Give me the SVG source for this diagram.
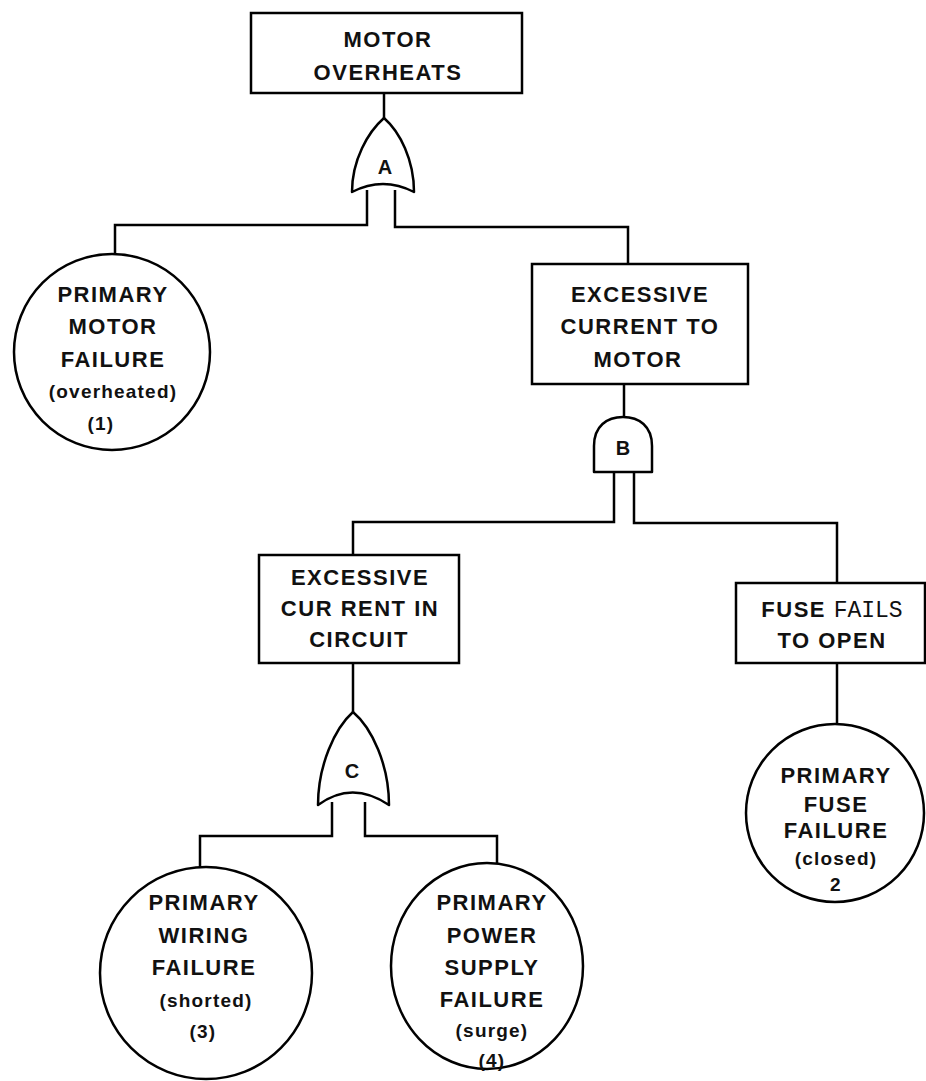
<svg xmlns="http://www.w3.org/2000/svg" width="926" height="1081" viewBox="0 0 926 1081">
<style>
.box{fill:#fff;stroke:#000;stroke-width:2.5}
.gate{fill:#fff;stroke:#000;stroke-width:2.5;stroke-linejoin:round}
.ev{fill:#fff;stroke:#000;stroke-width:2.5}
.wire{fill:none;stroke:#000;stroke-width:2.5}
text{font-family:"Liberation Sans",Arial,sans-serif;font-weight:bold;fill:#111;text-anchor:middle}
.t{font-size:22px;letter-spacing:1.5px}
.s{font-size:19px;letter-spacing:1.2px}
.g{font-size:20px}
.mono{font-family:"Liberation Mono","Courier New",monospace;font-weight:normal;font-size:23px;letter-spacing:0}
</style>
<rect width="926" height="1081" fill="#fff"/>
<g id="connectors">
<path class="wire" d="M384,93 V118"/>
<path class="wire" d="M367,190 V225 H115 V255"/>
<path class="wire" d="M395,190 V227 H628 V264"/>
<path class="wire" d="M624,384 V417"/>
<path class="wire" d="M614,472 V522 H353 V555"/>
<path class="wire" d="M634,472 V523 H837 V583"/>
<path class="wire" d="M353,663 V712"/>
<path class="wire" d="M332,802 V836 H200 V867"/>
<path class="wire" d="M365,802 V836 H497 V863"/>
<path class="wire" d="M837,663 V724"/>
</g>
<g id="motor-overheats">
<rect class="box" x="251" y="13" width="271" height="80"/>
<text class="t" x="388" y="47">MOTOR</text>
<text class="t" x="388" y="80">OVERHEATS</text>
</g>
<g id="gate-A">
<path class="gate" d="M384,118 C368,132 352,160 352,192 Q383,176 414,192 C414,160 400,132 384,118 Z"/>
<text class="g" x="385" y="174">A</text>
</g>
<g id="primary-motor-failure">
<circle class="ev" cx="112" cy="352" r="98"/>
<text class="t" x="113" y="302">PRIMARY</text>
<text class="t" x="113" y="334">MOTOR</text>
<text class="t" x="113" y="367">FAILURE</text>
<text class="s" x="113" y="398">(overheated)</text>
<text class="s" x="101" y="430">(1)</text>
</g>
<g id="excessive-current-to-motor">
<rect class="box" x="532" y="264" width="216" height="120"/>
<text class="t" x="640" y="302">EXCESSIVE</text>
<text class="t" x="640" y="334">CURRENT TO</text>
<text class="t" x="638" y="367">MOTOR</text>
</g>
<g id="gate-B">
<path class="gate" d="M594,472 V446 C594,426 607,417 623,417 C639,417 652,426 652,446 V472 Z"/>
<text class="g" x="623" y="455">B</text>
</g>
<g id="excessive-current-in-circuit">
<rect class="box" x="259" y="555" width="200" height="108"/>
<text class="t" x="360" y="585">EXCESSIVE</text>
<text class="t" x="360" y="616">CUR RENT IN</text>
<text class="t" x="359" y="647">CIRCUIT</text>
</g>
<g id="gate-C">
<path class="gate" d="M353,712 C335,728 318,765 318,805 Q352,780 389,805 C389,765 372,728 353,712 Z"/>
<text class="g" x="352" y="778">C</text>
</g>
<g id="fuse-fails-to-open">
<rect class="box" x="736" y="583" width="189" height="80"/>
<text class="t" x="832" y="617">FUSE <tspan class="mono">FAILS</tspan></text>
<text class="t" x="832" y="648">TO OPEN</text>
</g>
<g id="primary-fuse-failure">
<circle class="ev" cx="835" cy="813" r="89"/>
<text class="t" x="836" y="783">PRIMARY</text>
<text class="t" x="836" y="812">FUSE</text>
<text class="t" x="836" y="838">FAILURE</text>
<text class="s" x="836" y="865">(closed)</text>
<text class="s" x="836" y="891">2</text>
</g>
<g id="primary-wiring-failure">
<circle class="ev" cx="206" cy="973" r="106"/>
<text class="t" x="204" y="910">PRIMARY</text>
<text class="t" x="204" y="943">WIRING</text>
<text class="t" x="204" y="975">FAILURE</text>
<text class="s" x="206" y="1007">(shorted)</text>
<text class="s" x="203" y="1038">(3)</text>
</g>
<g id="primary-power-supply-failure">
<ellipse class="ev" cx="487" cy="966" rx="96" ry="103"/>
<text class="t" x="492" y="910">PRIMARY</text>
<text class="t" x="492" y="943">POWER</text>
<text class="t" x="492" y="975">SUPPLY</text>
<text class="t" x="492" y="1007">FAILURE</text>
<text class="s" x="492" y="1037">(surge)</text>
<text class="s" x="492" y="1067">(4)</text>
</g>
</svg>
